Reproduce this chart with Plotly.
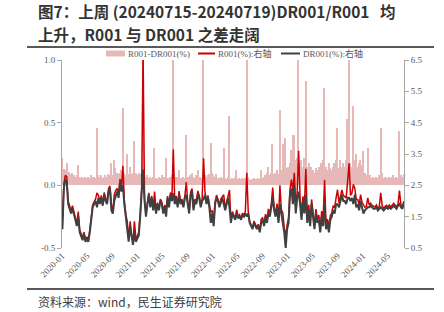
import pandas as pd
import plotly.graph_objects as go

# ---------------- data (weekly readings, Fridays from 2020-01-03 to 2024-07-19) ----------------
DR001 = [
    # 2020
    1.1, 2.4, 2.7, 2.6, 1.9,
    1.7, 1.6, 1.75, 1.6,
    1.4, 1.2, 1.5, 1.0,
    0.9, 0.75, 0.95, 0.7,
    0.8, 0.7, 1.0, 1.5, 1.8,
    1.9, 2.0, 1.8, 2.1,
    1.9, 2.1, 1.85, 2.2, 2.0,
    1.9, 2.3, 2.4, 1.7,
    1.6, 2.0, 2.2, 2.3,
    2.1, 2.6, 2.3, 2.5, 1.9,
    1.5, 1.1, 0.7, 1.2,
    0.8, 0.6, 1.0, 0.7,
    # 2021
    0.8, 0.9, 1.5, 2.3, 3.0,
    2.0, 1.5, 1.9, 2.2,
    1.8, 2.1, 1.7, 2.0,
    1.6, 1.9, 1.7, 2.0, 1.9,
    1.6, 1.8, 1.5, 2.1,
    1.8, 2.2, 2.0, 2.25,
    1.9, 2.1, 1.8, 2.2, 1.9,
    2.0, 1.8, 2.1, 2.2,
    1.9, 1.6, 2.2, 2.3,
    1.7, 2.0, 1.9, 2.2, 2.1,
    1.8, 2.0, 2.06, 2.2,
    1.9, 2.1, 1.8, 1.3, 1.6,
    # 2022
    1.2, 1.9, 2.1, 2.0,
    1.8, 2.0, 2.1, 1.9,
    1.7, 1.9, 2.1, 1.8,
    1.3, 1.6, 1.5, 1.4, 1.6,
    1.45, 1.5, 1.4, 1.55,
    1.5, 1.6, 1.5, 1.6,
    1.3, 1.2, 1.1, 1.3, 1.2,
    1.1, 1.2, 1.0, 1.3,
    1.4, 1.2, 1.5, 1.3, 1.6,
    1.5, 1.8, 2.1, 1.7,
    1.5, 1.8, 1.3, 1.9,
    1.6, 1.3, 1.0, 0.5, 1.1,
    # 2023
    1.3, 2.2, 2.4, 1.9,
    2.5, 1.6, 2.1, 2.3,
    1.9, 1.4, 2.0, 1.6, 2.2,
    1.3, 1.7, 1.2, 1.9,
    1.5, 1.1, 1.6, 1.3,
    1.4, 1.0, 1.5, 1.2, 1.9,
    1.1, 1.3, 1.0, 1.4,
    1.5, 1.7, 1.6, 1.9,
    1.9, 1.8, 2.0, 2.2, 2.0,
    2.0, 1.9, 2.1, 2.1,
    2.0, 2.1, 1.9, 2.2,
    1.8, 1.9, 1.7, 2.0, 1.8,
    # 2024
    1.6, 1.7, 1.75, 1.8,
    1.8, 1.85, 1.8, 1.75,
    1.75, 1.8, 1.7, 1.75, 1.8,
    1.75, 1.7, 1.75, 1.8,
    1.75, 1.8, 1.75, 1.8, 1.85,
    1.8, 1.75, 1.85, 1.9,
    1.8, 1.75, 1.9,
]

SPREAD = [
    # 2020
    0.22, 0.13, 0.12, 0.18, 0.10,
    0.11, 0.09, 0.10, 0.08,
    0.07, 0.08, 0.16, 0.07,
    0.06, 0.07, 0.06, 0.07,
    0.06, 0.07, 0.06, 0.08, 0.07,
    0.07, 0.06, 0.46, 0.08,
    0.07, 0.08, 0.06, 0.07, 0.08,
    0.07, 0.09, 0.08, 0.18,
    0.08, 0.20, 0.14, 0.10,
    0.09, 0.10, 0.12, 0.62, 0.10,
    0.08, 0.25, 0.09, 0.15,
    0.09, 0.10, 0.35, 0.10,
    # 2021
    0.08, 0.10, 0.07, 0.09, 3.8,
    0.10, 0.07, 0.08, 0.06,
    0.07, 0.06, 0.07, 0.30,
    0.06, 0.05, 0.07, 0.06, 0.08,
    0.06, 0.07, 0.22, 0.06,
    0.06, 0.07, 0.08, 1.40,
    0.07, 0.06, 0.07, 0.12, 0.06,
    0.06, 0.07, 0.06, 0.40,
    0.07, 0.06, 0.08, 0.10,
    0.07, 0.06, 0.08, 0.12, 0.07,
    0.07, 0.06, 1.30, 0.08,
    0.07, 0.08, 0.09, 0.34, 0.10,
    # 2022
    0.08, 0.07, 0.09, 0.06,
    0.06, 0.07, 0.06, 0.30,
    0.06, 0.05, 0.07, 0.55,
    0.05, 0.06, 0.05, 0.07, 0.12,
    0.05, 0.06, 0.05, 0.06,
    0.05, 0.06, 1.40, 0.07,
    0.05, 0.04, 0.05, 0.06, 0.05,
    0.05, 0.06, 0.05, 0.12,
    0.06, 0.07, 0.08, 0.10, 0.15,
    0.08, 0.10, 0.33, 0.09,
    0.10, 0.12, 0.09, 0.60,
    0.12, 0.33, 0.15, 0.38, 0.14,
    # 2023
    0.15, 0.18, 0.28, 0.40,
    0.40, 0.20, 0.22, 1.30,
    0.18, 0.20, 0.15, 0.22, 0.83,
    0.15, 0.18, 0.12, 0.15,
    0.12, 0.10, 0.14, 0.12,
    0.15, 0.12, 0.18, 0.20, 0.78,
    0.15, 0.12, 0.18, 0.14,
    0.12, 0.15, 0.18, 0.20,
    0.46, 0.14, 0.20, 0.15, 0.18,
    0.15, 0.20, 0.53, 1.10,
    0.18, 0.15, 0.63, 0.20,
    0.25, 0.15, 0.18, 0.20, 0.16,
    # 2024
    0.27, 0.10, 0.08, 0.30,
    0.07, 0.08, 0.06, 0.07,
    0.06, 0.07, 0.06, 0.08, 0.46,
    0.10, 0.06, 0.07, 0.06,
    0.06, 0.07, 0.06, 0.07, 0.08,
    0.06, 0.07, 0.06, 0.43,
    0.08, 0.07, 0.09,
]

DATES = pd.date_range("2020-01-03", periods=len(DR001), freq="W-FRI")
R001 = [round(d + s, 3) for d, s in zip(DR001, SPREAD)]

SERIES_NAMES = ["R001-DR001(%)", "R001(%):右轴", "DR001(%):右轴"]
LEFT_TICKS = [-0.5, 0.0, 0.5, 1.0]
LEFT_TEXT = ["-0.5", "0.0", "0.5", "1.0"]
RIGHT_TICKS = [0.5, 1.5, 2.5, 3.5, 4.5, 5.5, 6.5]
RIGHT_TEXT = ["0.5", "1.5", "2.5", "3.5", "4.5", "5.5", "6.5"]
TITLE_1 = "图7：上周 (20240715-20240719)DR001/R001\u00a0\u00a0\u00a0均"
TITLE_2 = "上升，R001 与 DR001 之差走阔"
SOURCE = "资料来源：wind，民生证券研究院"

# ---------------- layout geometry ----------------
W, H = 444, 312
L, R, T, B = 62, 40, 60, 64
PW, PH = W - L - R, H - T - B


def px(x):
    return (x - L) / PW


def py(y):
    return (H - B - y) / PH


PINK = "#E6B9B8"
RED = "#CC0000"
DARK = "#404040"
AXIS = "#A6A6A6"
TXT = "#595959"
SERIF = "Liberation Serif, Times New Roman, Noto Sans CJK SC, serif"
SANS = "Noto Sans CJK SC, sans-serif"

fig = go.Figure()
fig.add_trace(go.Bar(x=DATES, y=SPREAD, name=SERIES_NAMES[0], marker_color=PINK,
                     marker_line_width=0, yaxis="y", showlegend=False, hoverinfo="skip"))
fig.add_trace(go.Scatter(x=DATES, y=R001, name=SERIES_NAMES[1], mode="lines",
                         line=dict(color=RED, width=1.5), yaxis="y2", showlegend=False,
                         hoverinfo="skip"))
fig.add_trace(go.Scatter(x=DATES, y=DR001, name=SERIES_NAMES[2], mode="lines",
                         line=dict(color=DARK, width=2), yaxis="y2", showlegend=False,
                         hoverinfo="skip"))

xrange = ["2020-01-01", "2024-07-20"]
fig.update_layout(
    width=W, height=H,
    margin=dict(l=L, r=R, t=T, b=B, pad=0),
    paper_bgcolor="white", plot_bgcolor="white",
    bargap=0,
    xaxis=dict(type="date", range=xrange, tick0="2020-01-01", dtick="M4",
               tickformat="%Y-%m", tickangle=-45, ticks="", showline=False,
               showgrid=False, zeroline=False,
               tickfont=dict(family=SERIF, size=9, color=TXT)),
    xaxis2=dict(type="date", range=xrange, overlaying="x", anchor="free",
                position=1 / 3, side="bottom", tick0="2020-01-01", dtick="M4",
                showticklabels=False, ticks="outside", ticklen=3, tickcolor="#8C8C8C",
                showline=True, linecolor="#8C8C8C", linewidth=1, showgrid=False,
                zeroline=False),
    yaxis=dict(range=[-0.5, 1.0], tickvals=LEFT_TICKS, ticktext=LEFT_TEXT,
               showline=True, linecolor=AXIS, linewidth=1, ticks="outside",
               ticklen=4, tickcolor=AXIS, showgrid=False, zeroline=False,
               tickfont=dict(family=SERIF, size=9, color=TXT)),
    yaxis2=dict(range=[0.5, 6.5], tickvals=RIGHT_TICKS, ticktext=RIGHT_TEXT,
                overlaying="y", side="right", showline=True, linecolor=AXIS,
                linewidth=1, ticks="outside", ticklen=4, tickcolor=AXIS,
                showgrid=False, zeroline=False,
                tickfont=dict(family=SERIF, size=9, color=TXT)),
)

shapes = []
annotations = []

# title, two lines
for text, yy in ((TITLE_1, 11.5), (TITLE_2, 34)):
    annotations.append(dict(text="<b>" + text + "</b>", x=px(36), y=py(yy),
                            xref="paper", yref="paper", xanchor="left", yanchor="middle",
                            align="left", showarrow=False,
                            font=dict(family=SANS, size=15.5, color="#333333")))
# rules
for yy in (47, 289):
    shapes.append(dict(type="line", xref="paper", yref="paper", x0=px(27), x1=px(434),
                       y0=py(yy), y1=py(yy), line=dict(color="#595959", width=2)))
# source
annotations.append(dict(text=SOURCE, x=px(36), y=py(301), xref="paper", yref="paper",
                        xanchor="left", yanchor="middle", showarrow=False,
                        font=dict(family=SANS, size=12, color="#404040")))

# legend
LY = 53.5
shapes.append(dict(type="rect", xref="paper", yref="paper", x0=px(106), x1=px(125),
                   y0=py(LY + 3), y1=py(LY - 3), fillcolor=PINK, line=dict(width=0)))
shapes.append(dict(type="line", xref="paper", yref="paper", x0=px(198), x1=px(215),
                   y0=py(LY), y1=py(LY), line=dict(color=RED, width=2)))
shapes.append(dict(type="line", xref="paper", yref="paper", x0=px(281), x1=px(300),
                   y0=py(LY), y1=py(LY), line=dict(color=DARK, width=2)))
for name, x0 in zip(SERIES_NAMES, (126, 216, 301)):
    annotations.append(dict(text=name, x=px(x0), y=py(LY), xref="paper", yref="paper",
                            xanchor="left", yanchor="middle", showarrow=False,
                            font=dict(family=SERIF, size=9, color=TXT)))

fig.update_layout(shapes=shapes, annotations=annotations)
fig.write_html("out.html", config={"displayModeBar": False})
